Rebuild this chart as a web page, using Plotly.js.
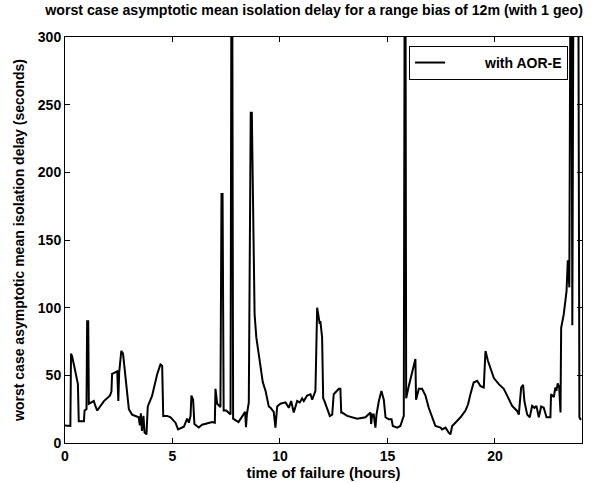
<!DOCTYPE html>
<html>
<head>
<meta charset="utf-8">
<script src="https://cdn.plot.ly/plotly-3.0.1.min.js"></script>
<style>html,body{margin:0;padding:0;background:#fff;}#chart{width:611px;height:483px;}</style>
</head>
<body>
<div id="chart"></div>
<script>
// time of failure (hours)
const hours = [0, 0.25, 0.28, 0.33, 0.44, 0.6, 0.64, 0.88, 0.91, 1.0, 1.03, 1.08, 1.11, 1.2, 1.34, 1.42, 1.5, 1.81, 2.09, 2.16, 2.19, 2.43, 2.48, 2.52, 2.62, 2.7, 2.86, 2.97, 3.12, 3.43, 3.48, 3.53, 3.58, 3.65, 3.7, 3.79, 3.85, 4.05, 4.29, 4.44, 4.52, 4.57, 4.75, 4.91,
  5.14, 5.26, 5.53, 5.68, 5.76, 5.84, 5.88, 5.96, 6.02, 6.22, 6.38, 6.85, 6.97, 7.0, 7.08, 7.23, 7.28, 7.33, 7.38, 7.5, 7.7, 7.74, 7.78, 7.82, 8.07, 8.3, 8.38, 8.42, 8.46, 8.55, 8.6, 8.64, 8.69, 8.74, 8.78, 8.82, 8.9, 9.09, 9.13, 9.2, 9.33, 9.48, 9.56, 9.71, 9.79, 9.87,
  10.02, 10.26, 10.41, 10.52, 10.64, 10.8, 10.92, 11.03, 11.11, 11.26, 11.42, 11.5, 11.65, 11.73, 11.85, 11.88, 11.96, 12.01, 12.07, 12.2, 12.32, 12.43, 12.5, 12.74, 12.81, 12.85, 12.89, 13.13, 13.59, 13.98, 14.21, 14.24, 14.29, 14.36, 14.44, 14.49, 14.6, 14.72, 14.83, 14.91,
  15.06, 15.19, 15.25, 15.45, 15.6, 15.76, 15.8, 15.84, 15.87, 15.99, 16.15, 16.3, 16.33, 16.46, 16.61, 16.77, 16.92, 17.08, 17.23, 17.47, 17.54, 17.7, 17.78, 17.85, 17.93, 18.01, 18.16, 18.4, 18.63, 18.75, 18.86, 19.01, 19.17, 19.33, 19.48, 19.56, 19.67, 19.79, 19.95,
  20.18, 20.41, 20.57, 20.8, 21.03, 21.11, 21.22, 21.31, 21.37, 21.5, 21.62, 21.73, 21.84, 21.93, 22.04, 22.15, 22.27, 22.4, 22.58, 22.61, 22.74, 22.81, 22.86, 22.92, 22.99, 23.05, 23.08, 23.2, 23.33, 23.39, 23.43, 23.46, 23.51, 23.56, 23.6, 23.65, 23.88, 23.93, 24.0];

// worst case asymptotic mean isolation delay (seconds)
const delay = [13, 12.6, 66, 64, 56, 43.5, 16, 16, 24, 25, 90, 90, 29, 30, 31, 27, 24, 31, 35, 38, 51, 53, 31, 52, 68, 66, 38.5, 25, 21, 19, 13, 22, 9, 20, 7.7, 6.4, 27, 34.8, 51, 58, 57, 20, 20, 19,
  15, 10, 12, 18, 15, 20, 35, 32, 14, 11.5, 13.5, 15.5, 15, 40, 29, 26.5, 184, 184, 24, 24, 21, 340, 340, 18, 15.5, 20.7, 23, 11.6, 21, 30, 160, 244, 244, 180, 130, 95, 78, 58, 53, 45, 38.5, 27, 26, 23, 11.4, 27,
  29, 30, 26, 31, 22.5, 31, 30, 33, 31, 35, 36, 32, 38.5, 100, 88, 90, 78, 33, 31, 26, 20, 21, 36, 40, 40, 22.5, 22.5, 20, 18, 19, 22.5, 14, 21, 21, 11.4, 21, 31, 38.5, 32, 19,
  17.5, 17.5, 12.6, 11.4, 12.6, 20, 340, 340, 33, 42, 52, 62, 32, 40, 40, 35, 26, 19, 12.6, 11.4, 10, 11.4, 9, 7.7, 6.4, 12.6, 15, 19, 24, 28.6, 36, 44.7, 46, 42, 41, 68, 61, 55, 48,
  43.5, 40, 35, 27.4, 23.7, 21, 41, 43, 31, 21, 19, 27.4, 26, 27.4, 19, 27, 26, 19, 19, 36, 34, 41, 38.5, 44, 41, 22.5, 85, 95, 112, 135, 125, 115, 340, 340, 87, 340, 340, 19, 17];

const seriesName = "with AOR-E";
const xTicks = [0, 5, 10, 15, 20];
const yTicks = [0, 50, 100, 150, 200, 250, 300];

const fontFam = "Liberation Sans, Arial, sans-serif";
const axisCommon = {
  showline: true, linecolor: "#000", linewidth: 1, mirror: "ticks",
  ticks: "inside", ticklen: 5, tickcolor: "#000", tickwidth: 1,
  showgrid: false, zeroline: false,
  tickfont: {family: fontFam, size: 14, color: "#000", weight: "bold"}
};

const trace = {
  x: hours, y: delay, type: "scatter", mode: "lines", name: "\u00a0\u00a0\u00a0\u00a0\u00a0\u00a0\u00a0\u00a0\u00a0" + seriesName,
  line: {color: "#000", width: 2}
};

const layout = {
  width: 611, height: 483,
  margin: {l: 65, r: 29, t: 37, b: 40},
  paper_bgcolor: "#fff", plot_bgcolor: "#fff",
  title: {text: "worst case asymptotic mean isolation delay for a range bias of 12m (with 1 geo)",
    x: 0.514, xref: "container", xanchor: "center", y: 0.99, yref: "container", yanchor: "top",
    font: {family: fontFam, size: 14.2, color: "#000", weight: "bold"}},
  xaxis: Object.assign({}, axisCommon, {range: [0, 24.05], tickvals: xTicks, ticktext: xTicks.map(String),
    title: {text: "time of failure (hours)", standoff: 4, font: {family: fontFam, size: 15, color: "#000", weight: "bold"}}}),
  yaxis: Object.assign({}, axisCommon, {range: [0, 300], tickvals: yTicks, ticktext: yTicks.map(String),
    title: {text: "worst case asymptotic mean isolation delay (seconds)", standoff: 9, font: {family: fontFam, size: 14, color: "#000", weight: "bold"}}}),
  showlegend: true,
  legend: {x: 0.973, xanchor: "right", y: 0.978, yanchor: "top", bgcolor: "#fff", bordercolor: "#000", borderwidth: 1,
    font: {family: fontFam, size: 14, color: "#000", weight: "bold"}}
};

Plotly.newPlot("chart", [trace], layout, {displayModeBar: false, staticPlot: true});
</script>
</body>
</html>
